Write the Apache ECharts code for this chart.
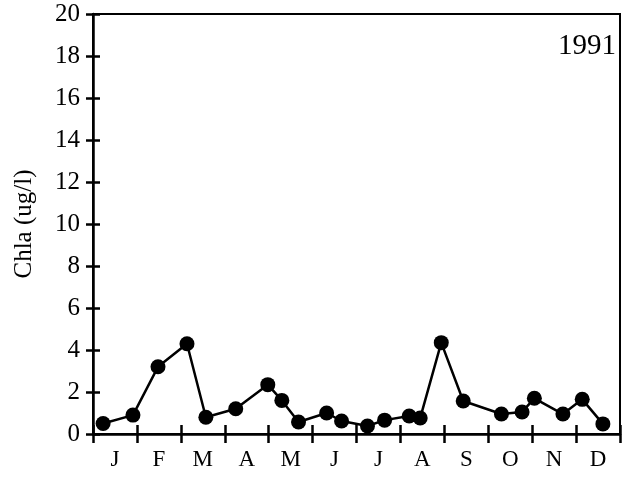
<!DOCTYPE html>
<html><head><meta charset="utf-8">
<script src="https://cdn.jsdelivr.net/npm/echarts@6/dist/echarts.min.js"></script>
<style>html,body{margin:0;padding:0;background:#fff}#c{width:630px;height:477px}</style>
</head><body><div id="c"></div>
<script>
const months = ['J','F','M','A','M','J','J','A','S','O','N','D'];
const yearLabel = '1991';
const yTitle = 'Chla (ug/l)';
// time in months since Jan 1 (0..12)
const sampleTime = [0.23,0.91,1.48,2.14,2.57,3.25,3.98,4.30,4.68,5.32,5.66,6.25,6.64,7.20,7.45,7.93,8.43,9.30,9.77,10.05,10.70,11.14,11.61];
const chla = [0.5,0.9,3.2,4.3,0.8,1.2,2.35,1.6,0.57,1.0,0.62,0.38,0.66,0.86,0.76,4.35,1.57,0.95,1.05,1.7,0.95,1.65,0.48];

const font = 'Liberation Serif';
const g = {left:93,right:10,top:14,bottom:43};
const tickStyle = {color:'#000',width:2.5};
const chart = echarts.init(document.getElementById('c'));
chart.setOption({
  animation:false,
  backgroundColor:'#fff',
  title:{text:yearLabel,right:9,top:27,textStyle:{fontFamily:font,fontSize:29,fontWeight:'normal',color:'#000'}},
  grid:[
    Object.assign({show:true,borderColor:'#000',borderWidth:2},g),
    Object.assign({show:false},g)
  ],
  xAxis:[
    {type:'category',gridIndex:0,data:months,position:'bottom',boundaryGap:true,
     axisLine:{lineStyle:{color:'#000',width:2.5}},
     axisTick:{show:true,length:9,inside:false,lineStyle:tickStyle},
     axisLabel:{fontFamily:font,fontSize:23,color:'#000',margin:14},
     splitLine:{show:false}},
    {type:'value',gridIndex:0,min:0,max:12,show:false,position:'top'},
    {type:'category',gridIndex:1,data:months,position:'bottom',boundaryGap:true,
     axisLine:{show:false},
     axisTick:{show:true,length:9,inside:true,lineStyle:tickStyle},
     axisLabel:{show:false},splitLine:{show:false}}
  ],
  yAxis:[
    {type:'value',gridIndex:0,min:0,max:20,interval:2,position:'left',
     name:yTitle,nameLocation:'middle',nameGap:56,
     nameTextStyle:{fontFamily:font,fontSize:25,color:'#000'},
     axisLine:{show:true,lineStyle:{color:'#000',width:2.5}},
     axisTick:{show:true,length:7,lineStyle:tickStyle},
     axisLabel:{fontFamily:font,fontSize:25,color:'#000',margin:13},
     splitLine:{show:false}},
    {type:'value',gridIndex:1,min:0,max:20,interval:2,position:'left',
     axisLine:{show:false},
     axisTick:{show:true,inside:true,length:7,lineStyle:tickStyle},
     axisLabel:{show:false},splitLine:{show:false}}
  ],
  series:[{
    type:'line',xAxisIndex:1,yAxisIndex:0,
    data:sampleTime.map((t,i)=>[t,chla[i]]),
    symbol:'circle',symbolSize:15,
    lineStyle:{color:'#000',width:2.5},
    itemStyle:{color:'#000'}
  },{
    type:'line',xAxisIndex:2,yAxisIndex:1,data:[],silent:true
  }]
});
</script></body></html>
